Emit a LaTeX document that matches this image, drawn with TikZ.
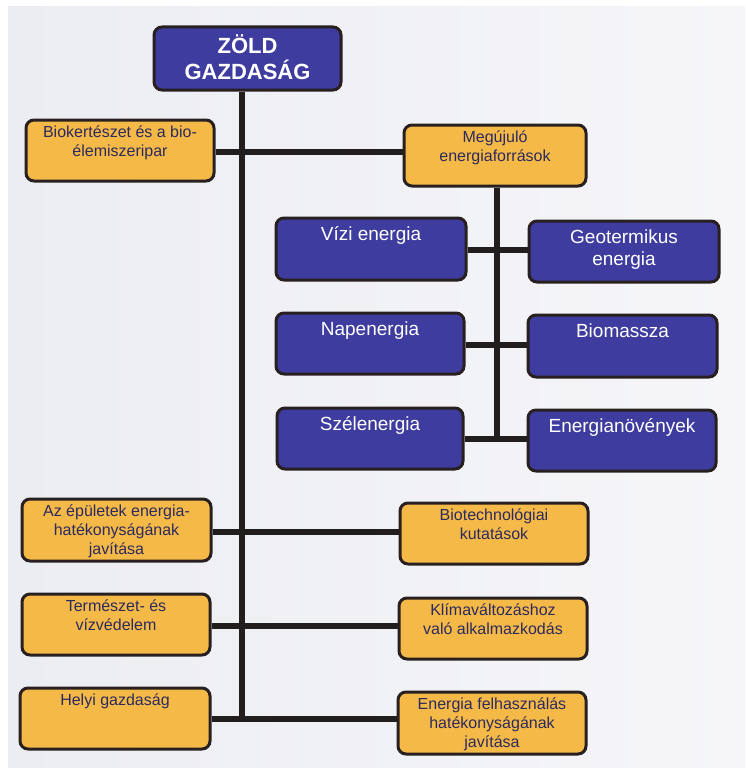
\documentclass[tikz,border=0pt]{standalone}
\usepackage{fontspec}
\setmainfont{Liberation Sans}
\usetikzlibrary{backgrounds}

\definecolor{paperL}{RGB}{236,237,242}
\definecolor{paperR}{RGB}{246,246,249}
\definecolor{ofill}{RGB}{244,185,70}
\definecolor{bfill}{RGB}{62,60,158}
\definecolor{boxline}{RGB}{40,32,32}
\definecolor{otxt}{RGB}{45,42,95}
\definecolor{linkc}{RGB}{35,30,30}

% invisible struts fixing the height of a first text line
\newcommand\ostrt{\rule{0pt}{12pt}}
\newcommand\bstrt{\rule{0pt}{14pt}}
\newcommand\tstrt{\rule{0pt}{21pt}}

\begin{document}
\begin{tikzpicture}[x=1pt,y=-1pt,
  box/.style={draw=boxline, line width=3pt, rounded corners=8pt, inner sep=0pt,
              minimum width=188pt, minimum height=61pt},
  obox/.style={box, fill=ofill},
  bbox/.style={box, fill=bfill},
  otext/.style={anchor=north, inner sep=0pt, align=center, text=otxt,
                font=\fontsize{16}{19}\selectfont, yshift=-6.5pt},
  btext/.style={anchor=north, inner sep=0pt, align=center, text=white,
                font=\fontsize{19}{22.5}\selectfont, yshift=-9.5pt},
  ttext/.style={anchor=north, inner sep=0pt, align=center, text=white,
                font=\bfseries\fontsize{22}{26}\selectfont, yshift=-6.5pt},
  link/.style={draw=linkc, line width=6pt}]
\useasboundingbox (0,0) rectangle (745,768);

% title
\node[bbox, minimum width=187pt, minimum height=63pt] (title) at (247.5,58.5) {};
\node[ttext] (title-t) at (title.north) {\tstrt ZÖLD\\GAZDASÁG};

% first row
\node[obox] (bio) at (120,150.5) {};
\node[otext] (bio-t) at (bio.north) {\ostrt Biokertészet és a bio-\\élemiszeripar};
\node[obox, minimum width=182pt] (meg) at (495,155.5) {};
\node[otext] (meg-t) at (meg.north) {\ostrt Megújuló\\energiaforrások};

% renewable sources
\node[bbox, minimum width=190pt, minimum height=62pt] (vizi) at (371,249) {};
\node[btext] (vizi-t) at (vizi.north) {\bstrt Vízi energia};
\node[bbox, minimum width=190pt] (geo) at (624,251.5) {};
\node[btext] (geo-t) at (geo.north) {\bstrt Geotermikus\\energia};
\node[bbox] (nap) at (370,343.5) {};
\node[btext] (nap-t) at (nap.north) {\bstrt Napenergia};
\node[bbox, minimum width=189pt, minimum height=62pt] (biom) at (622.5,346) {};
\node[btext] (biom-t) at (biom.north) {\bstrt Biomassza};
\node[bbox, minimum width=186pt] (szel) at (370,438.5) {};
\node[btext] (szel-t) at (szel.north) {\bstrt Szélenergia};
\node[bbox] (enov) at (622,440.5) {};
\node[btext] (enov-t) at (enov.north) {\bstrt Energianövények};

% lower rows
\node[obox, minimum width=189pt, minimum height=62pt] (epul) at (116.5,530) {};
\node[otext] (epul-t) at (epul.north) {\ostrt Az épületek energia-\\hatékonyságának\\javítása};
\node[obox] (bitech) at (494,533.5) {};
\node[otext] (bitech-t) at (bitech.north) {\ostrt Biotechnológiai\\kutatások};
\node[obox] (term) at (116,624.5) {};
\node[otext] (term-t) at (term.north) {\ostrt Természet- és\\vízvédelem};
\node[obox] (klima) at (493,628.5) {};
\node[otext] (klima-t) at (klima.north) {\ostrt Klímaváltozáshoz\\való alkalmazkodás};
\node[obox, minimum width=190pt] (helyi) at (115,718.5) {};
\node[otext] (helyi-t) at (helyi.north) {\ostrt Helyi gazdaság};
\node[obox, minimum height=62pt] (enfel) at (492,723) {};
\node[otext] (enfel-t) at (enfel.north) {\ostrt Energia felhasználás\\hatékonyságának\\javítása};

% free ends of the two spines
\coordinate (trunkend) at (242,719);
\coordinate (subend) at (497,439);

\begin{scope}[on background layer]
  \fill[white] (0,0) rectangle (745,768);
  \shade[left color=paperL, right color=paperR] (8,7) rectangle (745,768);
  % main spine and its branches
  \draw[link] (title.south -| trunkend) -- (trunkend);
  \draw[link] (bio.east |- 0,152) -- (meg.west |- 0,152);
  \draw[link] (epul.east |- 0,532) -- (bitech.west |- 0,532);
  \draw[link] (term.east |- 0,625.5) -- (klima.west |- 0,625.5);
  \draw[link] (helyi.east |- trunkend) -- (enfel.west |- trunkend);
  % renewable spine and its branches
  \draw[link] (meg.south -| subend) -- (subend);
  \draw[link] (vizi.east |- 0,250) -- (geo.west |- 0,250);
  \draw[link] (nap.east |- 0,345) -- (biom.west |- 0,345);
  \draw[link] (szel.east |- subend) -- (enov.west |- subend);
\end{scope}
\end{tikzpicture}
\end{document}
